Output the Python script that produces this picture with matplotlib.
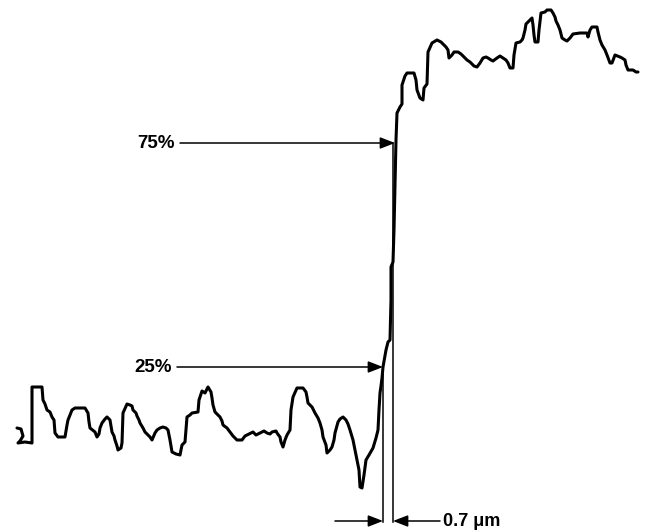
import matplotlib.pyplot as plt

# profile trace (horizontal position, signal height; image units)
pos = [17, 21, 23, 20, 18, 25, 32, 32, 42, 43, 45, 47, 50, 52, 54, 55, 58, 65, 67, 68,
       72, 75, 85, 88, 89, 90, 95, 97, 99, 100, 102, 105, 107, 110, 111, 112, 114, 115, 117, 118,
       121, 122, 123, 127, 130, 132, 133, 136, 137, 139, 140, 143, 145, 148, 150, 152, 155, 157, 160, 163,
       166, 168, 170, 172, 176, 180, 182, 185, 187, 190, 192, 198, 199, 202, 205, 208, 211, 212, 213, 215,
       220, 222, 223, 227, 230, 233, 237, 242, 245, 249, 253, 256, 260, 264, 267, 270, 272, 276, 277, 280,
       281, 283, 285, 287, 290, 291, 293, 297, 303, 306, 307, 308, 312, 315, 318, 320, 322, 323, 326, 327,
       330, 332, 334, 335, 338, 340, 343, 346, 348, 350, 353, 355, 357, 359, 360, 362, 364, 366, 369, 373,
       376, 378, 379, 380, 381, 382, 383, 386, 388, 390, 391, 391, 393, 394, 395, 396, 397, 400, 402, 402,
       405, 407, 414, 416, 417, 420, 423, 424, 427, 428, 432, 437, 441, 443, 446, 448, 449, 452, 454, 458,
       461, 463, 465, 467, 470, 472, 474, 477, 480, 483, 486, 488, 491, 493, 497, 500, 503, 506, 508, 510,
       513, 514, 516, 520, 522, 523, 525, 526, 530, 532, 533, 534, 535, 538, 539, 541, 545, 547, 551, 553,
       555, 556, 558, 560, 562, 565, 567, 570, 573, 580, 587, 588, 590, 592, 597, 598, 600, 602, 605, 607,
       610, 612, 615, 620, 622, 625, 626, 628, 633, 636, 638]
signal = [428, 429, 436, 441, 443, 442, 443, 387, 387, 400, 404, 410, 412, 417, 420, 433, 437, 437, 425, 420,
          410, 408, 408, 413, 422, 428, 432, 437, 434, 428, 423, 419, 417, 420, 426, 432, 436, 440, 446, 450,
          448, 443, 413, 404, 405, 406, 410, 413, 416, 420, 423, 428, 432, 435, 437, 440, 433, 430, 428, 427,
          428, 430, 440, 452, 454, 455, 445, 442, 417, 415, 413, 412, 400, 391, 393, 387, 392, 398, 405, 412,
          417, 421, 425, 428, 432, 436, 440, 440, 436, 434, 432, 435, 433, 431, 433, 434, 432, 431, 433, 437,
          442, 447, 440, 435, 430, 410, 397, 388, 388, 392, 397, 403, 407, 413, 418, 423, 430, 437, 445, 453,
          450, 447, 440, 433, 422, 419, 417, 420, 424, 430, 440, 450, 460, 470, 487, 488, 475, 460, 455, 448,
          438, 430, 410, 393, 386, 378, 367, 350, 342, 340, 300, 267, 262, 230, 183, 140, 113, 107, 104, 85,
          76, 73, 73, 80, 90, 98, 100, 88, 84, 52, 43, 40, 42, 44, 47, 50, 58, 55, 52, 52,
          54, 56, 58, 60, 62, 64, 66, 67, 63, 58, 57, 58, 60, 61, 58, 56, 58, 60, 63, 68,
          68, 55, 43, 42, 40, 38, 30, 24, 20, 18, 25, 35, 42, 42, 30, 13, 12, 10, 10, 13,
          17, 21, 25, 30, 38, 40, 41, 38, 34, 33, 33, 37, 30, 27, 27, 32, 40, 45, 50, 55,
          63, 63, 55, 57, 58, 60, 65, 70, 70, 72, 72]

# level markers and edge positions
level_labels = ['75%', '25%']
level_heights = [143, 367]
level_edges = [395, 383]
label_right = [175, 172]
line_start = [180, 177]

edge_left = 383
edge_right = 393
width_row = 521
width_label = '0.7 μm'

fig = plt.figure(figsize=(6.48, 5.30), dpi=100)
ax = fig.add_axes([0, 0, 1, 1])
ax.set_xlim(0, 648)
ax.set_ylim(530, 0)
ax.axis('off')

ax.plot(pos, signal, color='black', lw=2.2, solid_joinstyle='round', solid_capstyle='round')

font = dict(family='Liberation Sans', weight='bold', size=13.5)
arrow = dict(arrowstyle='-|>,head_length=0.9,head_width=0.35', mutation_scale=10,
             color='black', lw=1.1, shrinkA=0, shrinkB=0)

for lab, h, xe, xr, xs in zip(level_labels, level_heights, level_edges, label_right, line_start):
    ax.text(xr, h, lab, ha='right', va='center', **font)
    ax.annotate('', xy=(xe, h), xytext=(xs, h), arrowprops=arrow)

# extension lines of the edge
ax.plot([edge_left, edge_left], [level_heights[1], width_row + 1], color='black', lw=1.1)
ax.plot([edge_right, edge_right], [level_heights[0], width_row + 1], color='black', lw=1.1)

ax.annotate('', xy=(edge_left, width_row), xytext=(335, width_row), arrowprops=arrow)
ax.annotate('', xy=(edge_right, width_row), xytext=(440, width_row), arrowprops=arrow)
ax.text(443, width_row, width_label, ha='left', va='center', family='Liberation Sans',
        weight='bold', size=13)

fig.savefig('out.png', dpi=100)
